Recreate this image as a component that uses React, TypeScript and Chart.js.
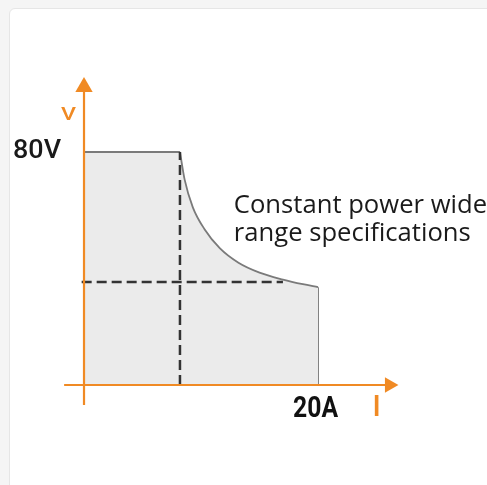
import React, { useEffect, useRef } from "react";
import { Chart, registerables } from "chart.js";

Chart.register(...registerables);

// Current (A) and voltage (V) of the output envelope
const flatCurrent = [0, 8.2];
const flatVoltage = [80, 80];
const curveCurrent = [8.2, 8.6, 9.3, 10.3, 11.6, 13.2, 15.0, 17.0, 18.7, 20.0];
const curveVoltage = [80, 70.5, 61.0, 53.5, 47.0, 42.0, 38.6, 36.2, 34.6, 33.6];
const dropCurrent = [20, 20];
const dropVoltage = [33.6, 0];
// dashed guides
const vGuideCurrent = [8.2, 8.2];
const vGuideVoltage = [0, 80];
const hGuideCurrent = [-0.2, 17.0];
const hGuideVoltage = [35.4, 35.4];
// axes
const xAxisCurrent = [-1.7, 26.1];
const xAxisVoltage = [0, 0];
const yAxisCurrent = [0, 0];
const yAxisVoltage = [-6.9, 102.3];
const xArrow = { x: 26.1, y: 0 };
const yArrow = { x: 0, y: 102.3 };

const maxVoltageLabel = "80V";
const maxCurrentLabel = "20A";
const vAxisLabel = "V";
const iAxisLabel = "I";
const noteLines = ["Constant power wide", "range specifications"];

// visible range of the whole canvas in data units
const xRange = [-7.18, 34.44];
const yRange = [-34.33, 132.19];

const ORANGE = "#f08a24";
const pts = (xs: number[], ys: number[]) => xs.map((x, i) => ({ x, y: ys[i] }));

const drawFit = (ctx: CanvasRenderingContext2D, text: string, x: number, y: number, font: string, color: string, targetW: number) => {
  ctx.save();
  ctx.font = font;
  ctx.fillStyle = color;
  ctx.textBaseline = "alphabetic";
  ctx.textAlign = "left";
  const w = ctx.measureText(text).width;
  ctx.translate(x, y);
  ctx.scale(targetW / w, 1);
  ctx.fillText(text, 0, 0);
  ctx.restore();
};

const labelsPlugin = {
  id: "labelsPlugin",
  afterDatasetsDraw(chart: any) {
    const ctx = chart.ctx as CanvasRenderingContext2D;
    const xs = chart.scales.x;
    const ys = chart.scales.y;
    const x0 = xs.getPixelForValue(0);
    const y80 = ys.getPixelForValue(80);
    const y0 = ys.getPixelForValue(0);
    const x20 = xs.getPixelForValue(20);
    drawFit(ctx, maxVoltageLabel, x0 - 71, y80 + 6, "500 25px Roboto", "#1a1a1a", 48);
    drawFit(ctx, vAxisLabel, x0 - 23, y80 - 32, "500 18px Roboto", ORANGE, 15);
    drawFit(ctx, maxCurrentLabel, x20 - 25, y0 + 32, "700 30px Roboto", "#111", 45);
    ctx.save();
    ctx.fillStyle = ORANGE;
    ctx.font = "500 29px Roboto";
    ctx.textAlign = "center";
    ctx.fillText(iAxisLabel, xs.getPixelForValue(25.0), y0 + 31);
    ctx.restore();
    const nx = xs.getPixelForValue(12.8);
    const ny = ys.getPixelForValue(59);
    const font = "400 26px 'Open Sans'";
    ctx.save();
    ctx.font = font;
    const s = 237 / ctx.measureText(noteLines[1]).width;
    const w0 = ctx.measureText(noteLines[0]).width;
    ctx.restore();
    drawFit(ctx, noteLines[0], nx, ny, font, "#1a1a1a", w0 * s);
    drawFit(ctx, noteLines[1], nx, ny + 28, font, "#1a1a1a", 237);
  },
};

export default function App() {
  const ref = useRef<HTMLCanvasElement>(null);
  useEffect(() => {
    if (!ref.current) return;
    const common = { pointRadius: 0, clip: false as any, tension: 0 };
    const chart = new Chart(ref.current, {
      type: "line",
      data: {
        datasets: [
          { ...common, data: pts(xAxisCurrent, xAxisVoltage), borderColor: ORANGE, borderWidth: 2.2, order: 1 },
          { ...common, data: pts(yAxisCurrent, yAxisVoltage), borderColor: ORANGE, borderWidth: 2.2, order: 1 },
          { data: [xArrow], showLine: false, pointStyle: "triangle", pointRadius: 9, rotation: 90, backgroundColor: ORANGE, borderColor: ORANGE, borderWidth: 0, clip: false as any, order: 0 },
          { data: [yArrow], showLine: false, pointStyle: "triangle", pointRadius: 10, rotation: 0, backgroundColor: ORANGE, borderColor: ORANGE, borderWidth: 0, clip: false as any, order: 0 },
          { ...common, data: pts(vGuideCurrent, vGuideVoltage), borderColor: "#333", borderWidth: 2.5, borderDash: [10, 5], order: 2 },
          { ...common, data: pts(hGuideCurrent, hGuideVoltage), borderColor: "#333", borderWidth: 2.5, borderDash: [10, 5], order: 2 },
          { ...common, data: pts(flatCurrent, flatVoltage), borderColor: "#7a7a7a", borderWidth: 1.8, fill: "origin", backgroundColor: "#ebebeb", order: 3 },
          { ...common, cubicInterpolationMode: "monotone", data: pts(curveCurrent, curveVoltage), borderColor: "#7a7a7a", borderWidth: 1.8, fill: "origin", backgroundColor: "#ebebeb", order: 3 },
          { ...common, data: pts(dropCurrent, dropVoltage), borderColor: "#7a7a7a", borderWidth: 1.8, order: 3 },
        ],
      },
      options: {
        animation: false,
        responsive: false,
        events: [],
        layout: { padding: 0, autoPadding: false },
        plugins: { legend: { display: false }, tooltip: { enabled: false } },
        scales: {
          x: { type: "linear", min: xRange[0], max: xRange[1], display: false },
          y: { type: "linear", min: yRange[0], max: yRange[1], display: false },
        },
      },
      plugins: [labelsPlugin],
    });
    return () => chart.destroy();
  }, []);
  return (
    <div style={{ position: "fixed", left: 0, top: 0, width: 487, height: 485, background: "#f5f5f5", overflow: "hidden" }}>
      <div style={{ position: "absolute", left: 9, top: 8, width: 500, height: 500, background: "#fff", border: "1px solid #e6e6e6", borderRadius: 6 }} />
      <canvas ref={ref} width={487} height={485} style={{ position: "absolute", left: 0, top: 0, display: "block" }} />
    </div>
  );
}
